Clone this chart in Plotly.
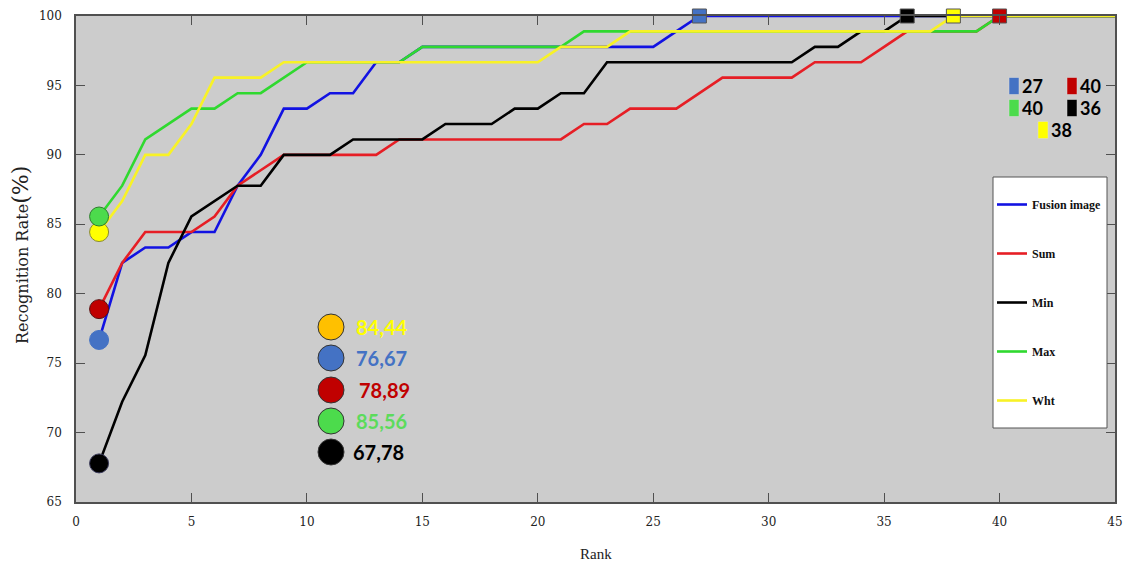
import plotly.graph_objects as go

# Cumulative recognition rate (%) for ranks 1..45
ranks = list(range(1, 46))

fusion = [76.67, 82.22, 83.33, 83.33, 84.44, 84.44, 87.78, 90.00, 93.33, 93.33,
          94.44, 94.44, 96.67, 96.67, 97.78, 97.78, 97.78, 97.78, 97.78, 97.78,
          97.78, 97.78, 97.78, 97.78, 97.78, 98.89] + [100.0] * 19
sum_rule = [78.89, 82.22, 84.44, 84.44, 84.44, 85.56, 87.78, 88.89, 90.00, 90.00,
            90.00, 90.00, 90.00, 91.11, 91.11, 91.11, 91.11, 91.11, 91.11, 91.11,
            91.11, 92.22, 92.22, 93.33, 93.33, 93.33, 94.44, 95.56, 95.56, 95.56,
            95.56, 96.67, 96.67, 96.67, 97.78, 98.89, 98.89, 98.89, 98.89] + [100.0] * 6
min_rule = [67.78, 72.22, 75.56, 82.22, 85.56, 86.67, 87.78, 87.78, 90.00, 90.00,
            90.00, 91.11, 91.11, 91.11, 91.11, 92.22, 92.22, 92.22, 93.33, 93.33,
            94.44, 94.44, 96.67, 96.67, 96.67, 96.67, 96.67, 96.67, 96.67, 96.67,
            96.67, 97.78, 97.78, 98.89, 98.89] + [100.0] * 10
max_rule = [85.56, 87.78, 91.11, 92.22, 93.33, 93.33, 94.44, 94.44, 95.56, 96.67,
            96.67, 96.67, 96.67, 96.67, 97.78, 97.78, 97.78, 97.78, 97.78, 97.78,
            97.78] + [98.89] * 18 + [100.0] * 6
wht_rule = [84.44, 86.67, 90.00, 90.00, 92.22, 95.56, 95.56, 95.56, 96.67, 96.67,
            96.67, 96.67, 96.67, 96.67, 96.67, 96.67, 96.67, 96.67, 96.67, 96.67,
            97.78, 97.78, 97.78] + [98.89] * 14 + [100.0] * 8

series_names = ["Fusion image", "Sum", "Min", "Max", "Wht"]
series_values = [fusion, sum_rule, min_rule, max_rule, wht_rule]
line_colors = ["#1212E2", "#E61E25", "#000000", "#2FD92F", "#F8F226"]
dot_colors = ["#4472C4", "#C00000", "#000000", "#4CDB4C", "#FFFF00"]
dot_edges = ["#4472C4", "#5A1010", "#3A3A5A", "#2E7D2E", "#8A8A30"]
block_dot_colors = ["#FFC000", "#4472C4", "#C00000", "#4CDB4C", "#000000"]
block_text_colors = ["#FFFF00", "#4472C4", "#C00000", "#5CDB5C", "#000000"]

W, H = 1128, 564
L, R, T, B = 76, 13, 16, 62
PW, PH = W - L - R, H - T - B


def px(xp):
    return (xp - L) / PW


def py(yp):
    return (H - B - yp) / PH


fig = go.Figure()

for i, (name, vals) in enumerate(zip(series_names, series_values)):
    fig.add_trace(go.Scatter(
        x=ranks, y=vals, mode="lines", name=name,
        line=dict(color=line_colors[i], width=2.6),
        legendgroup=name,
    ))

# rank-1 circles (yellow under green)
for i in [0, 1, 2, 4, 3]:
    fig.add_trace(go.Scatter(
        x=[ranks[0]], y=[series_values[i][0]], mode="markers", showlegend=False,
        marker=dict(symbol="circle", size=19, color=dot_colors[i],
                    line=dict(color=dot_edges[i], width=1)),
        cliponaxis=False, hoverinfo="skip",
    ))


def first_full(vals):
    for r, v in zip(ranks, vals):
        if v >= 100:
            return r
    return None


full_rank = [first_full(v) for v in series_values]

# squares where each curve reaches 100 %
for i in [0, 2, 4, 1]:
    fig.add_trace(go.Scatter(
        x=[full_rank[i]], y=[100.0], mode="markers", showlegend=False,
        marker=dict(symbol="square", size=14, color=dot_colors[i],
                    line=dict(color="#555555", width=1)),
        cliponaxis=False, hoverinfo="skip",
    ))

shapes = []
annotations = []

# block of rank-1 values
block_order = [4, 0, 1, 3, 2]
block_y = [327, 358, 390, 421, 452]
block_text_x = [354, 354, 357, 354, 351]
for k, i in enumerate(block_order):
    shapes.append(dict(
        type="circle", xref="paper", yref="paper",
        xsizemode="pixel", ysizemode="pixel",
        xanchor=px(331), yanchor=py(block_y[k]),
        x0=-13, x1=13, y0=-13, y1=13,
        fillcolor=block_dot_colors[k], line=dict(color="#333333", width=1),
        layer="above",
    ))
    label = f"{series_values[i][0]:.2f}".replace(".", ",")
    annotations.append(dict(
        x=px(block_text_x[k]), y=py(block_y[k]), xref="paper", yref="paper",
        xanchor="left", yanchor="middle", showarrow=False,
        text=f"<b>{label}</b>",
        font=dict(family="Lato", size=20, color=block_text_colors[k]),
    ))

# block of ranks reaching 100 %
rank_block = [(0, 1009, 86), (1, 1067, 86), (3, 1009, 108), (2, 1067, 108), (4, 1038, 130)]
for i, xs, yc in rank_block:
    shapes.append(dict(
        type="rect", xref="paper", yref="paper",
        xsizemode="pixel", ysizemode="pixel",
        xanchor=px(xs), yanchor=py(yc),
        x0=0, x1=10, y0=-8.5, y1=8.5,
        fillcolor=dot_colors[i], line=dict(color="#DDDDDD", width=0.5),
        layer="above",
    ))
    annotations.append(dict(
        x=px(xs + 11), y=py(yc), xref="paper", yref="paper",
        xanchor="left", yanchor="middle", showarrow=False,
        text=f"<b>{full_rank[i]}</b>",
        font=dict(family="Lato", size=18, color="#000000"),
    ))

# legend frame
shapes.append(dict(
    type="rect", xref="paper", yref="paper",
    x0=px(993), x1=px(1107), y0=py(428), y1=py(177),
    fillcolor="#FFFFFF", line=dict(color="#555555", width=1), layer="above",
))

annotations.append(dict(
    x=0.5, y=py(554), xref="paper", yref="paper", showarrow=False,
    xanchor="center", yanchor="middle",
    text="Rank", font=dict(family="Liberation Serif", size=15, color="#222222"),
))
annotations.append(dict(
    x=px(20), y=py(255), xref="paper", yref="paper", showarrow=False, textangle=-90,
    xanchor="center", yanchor="middle",
    text="Recognition Rate<span style='font-size:22px'>(%)</span>",
    font=dict(family="DejaVu Serif", size=16, color="#222222"),
))

axis_common = dict(
    showgrid=False, zeroline=False, showline=True, linecolor="#505050", linewidth=1.5,
    mirror="ticks", ticks="inside", ticklen=9, tickcolor="#505050", tickwidth=1,
    tickfont=dict(family="DejaVu Serif", size=12, color="#222222"),
)

fig.update_layout(
    width=W, height=H, autosize=False,
    margin=dict(l=L, r=R, t=T, b=B, autoexpand=False),
    paper_bgcolor="#FFFFFF", plot_bgcolor="#CCCCCC",
    xaxis=dict(range=[0, 45], dtick=5, tick0=0, ticklabelstandoff=8, **axis_common),
    yaxis=dict(range=[65, 100], dtick=5, tick0=65, ticklabelstandoff=10, **axis_common),
    showlegend=True,
    legend=dict(
        x=px(992), y=py(190), xanchor="left", yanchor="top",
        bgcolor="rgba(0,0,0,0)", borderwidth=0, tracegroupgap=30,
        font=dict(family="Liberation Serif", size=12, color="#111111", weight="bold"),
        itemwidth=30,
    ),
    shapes=shapes,
    annotations=annotations,
)

fig.write_html("out.html")
